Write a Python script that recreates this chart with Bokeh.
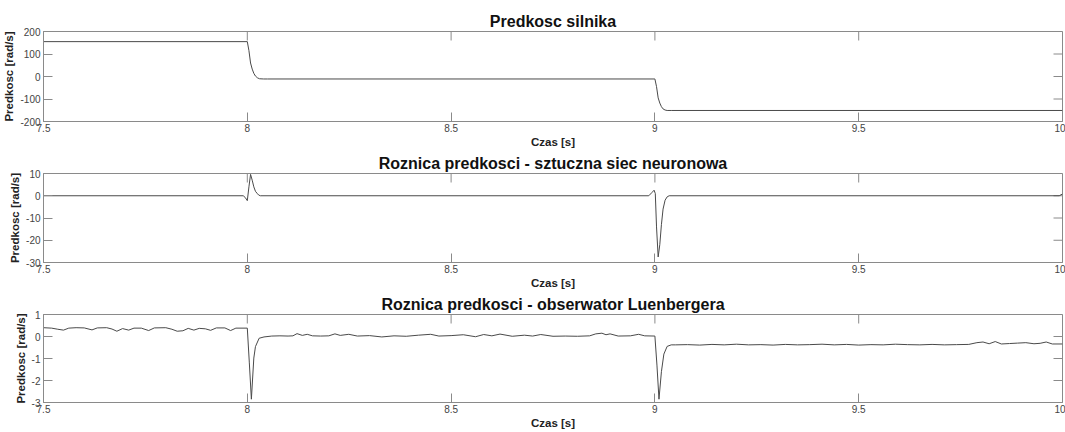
import math
from bokeh.plotting import figure
from bokeh.layouts import column
from bokeh.models import Range1d, FixedTicker, PrintfTickFormatter
from bokeh.embed import file_html
from bokeh.resources import INLINE

# ---------------- data ----------------
titles = ["Predkosc silnika",
          "Roznica predkosci - sztuczna siec neuronowa",
          "Roznica predkosci - obserwator Luenbergera"]
x_label = "Czas [s]"
y_label = "Predkosc [rad/s]"
x_ticks = [7.5, 8, 8.5, 9, 9.5, 10]
x_range = [7.5, 10]

# motor speed
t_speed = [7.5, 8.0, 8.004, 8.008, 8.012, 8.016, 8.020, 8.025, 8.030, 8.040, 8.050,
           9.0, 9.004, 9.008, 9.012, 9.016, 9.020, 9.025, 9.030, 9.040, 10.0]
w_speed = [155, 155, 115, 60, 33, 14, 2, -6, -10, -11, -11,
           -11, -45, -95, -118, -134, -144, -149, -151, -151, -151]
speed_range = [-200, 200]
speed_ticks = [-200, -100, 0, 100, 200]

# neural network speed error
t_nn = [7.5, 7.990, 7.995, 8.0, 8.004, 8.008, 8.012, 8.016, 8.020, 8.024, 8.028, 8.032,
        8.985, 8.993, 8.998, 9.001, 9.004, 9.008, 9.012, 9.016, 9.020, 9.025, 9.030, 9.035,
        9.992, 10.0]
e_nn = [0, 0, -0.8, -2.2, 4, 9.6, 7, 4, 2, 1.1, 0.3, 0,
        0, 1.5, 2.5, 1, -14, -27.5, -22, -13, -6, -2, -0.5, 0,
        0, 0.8]
nn_range = [-30, 10]
nn_ticks = [-30, -20, -10, 0, 10]

# Luenberger observer speed error
t_lo = [7.500, 7.520, 7.535, 7.549, 7.562, 7.580, 7.600, 7.619, 7.632, 7.655, 7.668, 7.680,
        7.694, 7.709, 7.722, 7.740, 7.758, 7.772, 7.800, 7.815, 7.828, 7.842, 7.855, 7.869,
        7.882, 7.897, 7.910, 7.924, 7.945, 7.959, 7.972, 8.000,
        8.005, 8.010, 8.016, 8.020, 8.029, 8.041,
        8.060, 8.080, 8.100, 8.112, 8.122, 8.135, 8.147, 8.160, 8.180, 8.200, 8.215, 8.228,
        8.249, 8.270, 8.300, 8.330, 8.360, 8.390, 8.420, 8.450, 8.470, 8.500, 8.530, 8.560,
        8.580, 8.600, 8.620, 8.650, 8.680, 8.700, 8.720, 8.750, 8.780, 8.810, 8.840, 8.855,
        8.870, 8.880, 8.890, 8.910, 8.940, 8.960, 8.975, 9.000,
        9.005, 9.010, 9.016, 9.022, 9.030, 9.040, 9.050,
        9.080, 9.110, 9.140, 9.170, 9.200, 9.230, 9.260, 9.290, 9.320, 9.350, 9.380, 9.410,
        9.440, 9.470, 9.500, 9.530, 9.560, 9.590, 9.620, 9.650, 9.680, 9.710, 9.740, 9.770,
        9.790, 9.805, 9.820, 9.835, 9.850, 9.870, 9.890, 9.910, 9.930, 9.945, 9.960, 9.975,
        10.0]
e_lo = [0.40, 0.38, 0.33, 0.29, 0.38, 0.40, 0.39, 0.30, 0.39, 0.40, 0.34, 0.24,
        0.36, 0.29, 0.38, 0.38, 0.27, 0.39, 0.40, 0.33, 0.24, 0.26, 0.37, 0.29,
        0.37, 0.35, 0.28, 0.39, 0.39, 0.27, 0.38, 0.38,
        -1.2, -2.85, -0.98, -0.46, -0.08, -0.02,
        0.02, 0.03, 0.02, 0.03, 0.13, 0.05, 0.10, 0.03, 0.02, 0.03, 0.12, 0.05,
        0.10, 0.02, 0.04, -0.02, 0.03, 0.01, 0.06, 0.10, 0.02, 0.04, 0.08, -0.01,
        0.09, 0.03, 0.11, 0.01, 0.06, 0.02, 0.09, 0.01, 0.02, 0.01, 0.03, 0.12,
        0.15, 0.08, 0.12, 0.02, 0.03, 0.10, 0.03, 0.02,
        -1.3, -2.85, -1.6, -0.8, -0.45, -0.38, -0.38,
        -0.37, -0.39, -0.36, -0.38, -0.35, -0.38, -0.37, -0.39, -0.36, -0.38, -0.37, -0.35,
        -0.38, -0.36, -0.39, -0.37, -0.38, -0.35, -0.37, -0.38, -0.36, -0.38, -0.37, -0.36,
        -0.28, -0.25, -0.33, -0.23, -0.34, -0.32, -0.30, -0.28, -0.33, -0.31, -0.25, -0.34,
        -0.34]
lo_range = [-3, 1]
lo_ticks = [-3, -2, -1, 0, 1]

# ---------------- styling ----------------
FONT = "Liberation Sans"
AX = "#8a8a8a"
TXT = "#444444"
LINE = "#4a4a4a"
TICK_LEN = 9


def style_axis(ax, ticks):
    ax.ticker = FixedTicker(ticks=ticks)
    ax.formatter = PrintfTickFormatter(format="%g")
    ax.major_tick_in = TICK_LEN
    ax.major_tick_out = 0
    ax.minor_tick_line_color = None
    ax.axis_line_color = AX
    ax.major_tick_line_color = AX
    ax.major_label_text_font = FONT
    ax.major_label_text_color = TXT
    ax.major_label_text_font_size = "10px"
    ax.major_label_standoff = 3
    ax.axis_label_text_font = FONT
    ax.axis_label_text_font_size = "11.5px"
    ax.axis_label_text_font_style = "bold"
    ax.axis_label_text_color = "#222222"


def make_panel(title, t, y, yr, yticks, top_border, frame_h):
    p = figure(frame_width=1019, frame_height=frame_h,
               x_range=Range1d(x_range[0], x_range[1]), y_range=Range1d(yr[0], yr[1]),
               output_backend="svg", toolbar_location=None,
               min_border_left=43, min_border_right=3,
               min_border_top=top_border, min_border_bottom=5,
               x_axis_label=x_label, y_axis_label=y_label)
    p.title.text = title
    p.title.align = "center"
    p.title.text_font = FONT
    p.title.text_font_size = "16px"
    p.title.text_font_style = "bold"
    p.title.text_color = "#111111"
    p.title.standoff = 4
    p.grid.visible = False
    p.outline_line_color = AX
    p.background_fill_color = "white"
    p.border_fill_color = "white"

    style_axis(p.xaxis[0], x_ticks)
    style_axis(p.yaxis[0], yticks)
    p.xaxis[0].major_label_standoff = 2
    p.xaxis[0].axis_label_standoff = 1
    p.yaxis[0].axis_label_standoff = 2

    # inward ticks on the top and right edges of the box
    p.ray(x=x_ticks, y=[yr[1]] * len(x_ticks), length=TICK_LEN, length_units="screen",
          angle=-math.pi / 2, line_color=AX, line_width=1)
    p.ray(x=[x_range[1]] * len(yticks), y=yticks, length=TICK_LEN, length_units="screen",
          angle=math.pi, line_color=AX, line_width=1)

    p.line(t, y, line_color=LINE, line_width=1)
    return p


p1 = make_panel(titles[0], t_speed, w_speed, speed_range, speed_ticks, 31, 90)
p2 = make_panel(titles[1], t_nn, e_nn, nn_range, nn_ticks, 5, 89)
p3 = make_panel(titles[2], t_lo, e_lo, lo_range, lo_ticks, 5, 88)

layout = column(p1, p2, p3, spacing=0)
open("out.html", "w").write(file_html(layout, INLINE))
